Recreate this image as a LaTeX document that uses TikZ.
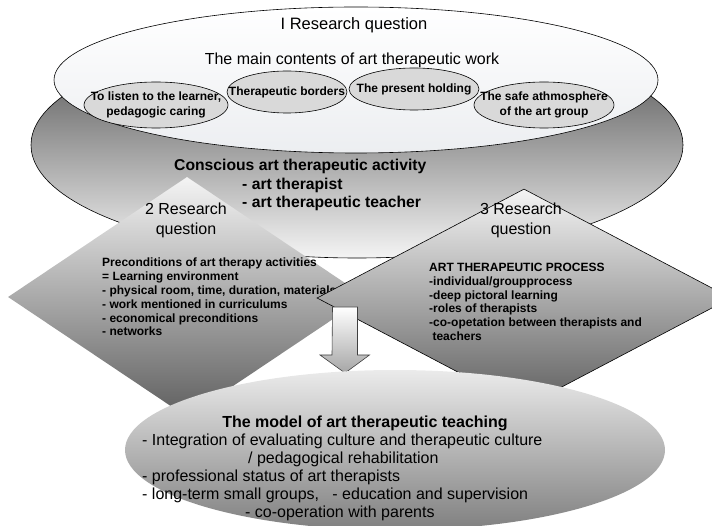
\documentclass[tikz,border=0pt]{standalone}
\usepackage{fontspec}
\setmainfont{Liberation Sans}
\usetikzlibrary{shapes.geometric}
\usetikzlibrary{positioning}
\definecolor{shellwhite}{RGB}{236,238,241}
\definecolor{ovalgrey}{RGB}{217,217,217}
\definecolor{deepgrey}{RGB}{95,95,95}
\definecolor{midgrey}{RGB}{185,185,185}
\definecolor{palegrey}{RGB}{244,244,244}
\tikzstyle{bigoval}=[ellipse,draw=black,line width=0.6pt,inner sep=0pt]
\tikzstyle{smalloval}=[ellipse,draw=black,fill=ovalgrey,line width=0.6pt,inner sep=0pt]
\tikzstyle{ovaltext}=[font=\bfseries\fontsize{12}{14.5}\selectfont,align=center,inner sep=0pt]
\tikzstyle{rqdiamond}=[diamond,inner sep=0pt,top color=palegrey,middle color=midgrey,bottom color=deepgrey]
\tikzstyle{rqtitle}=[font=\fontsize{16}{20}\selectfont,align=center,inner sep=0pt]
\tikzstyle{rqlist}=[font=\bfseries\fontsize{12}{13.8}\selectfont,align=left,inner sep=0pt]

\begin{document}
\begin{tikzpicture}[x=1pt,y=-1pt]

  \useasboundingbox (0,0) rectangle (712,526);

  % first research question
  \node[bigoval,minimum width=652pt,minimum height=226pt,top color=black!72,bottom color=palegrey] (activity) at (357,145) {};
  \node[bigoval,minimum width=604pt,minimum height=146pt,top color=white,bottom color=shellwhite] (contents) at (356,80) {};

  \node[rqtitle,font=\fontsize{16.5}{20}\selectfont] (rq1) at (354,25) {I Research question};
  \node[rqtitle] (maintext) at (352,60) {The main contents of art therapeutic work};

  \foreach \x/\y/\w/\h/\name/\label in {156/105/144/46/listen/{To listen to the learner,\\pedagogic caring},
                                      287/92/120/42/borders/{Therapeutic borders},
                                      414/89/130/42/holding/{The present holding},
                                      544/105/140/46/safe/{The safe athmosphere\\of the art group}}
  {
    \node[smalloval,minimum width=\w pt,minimum height=\h pt] (\name) at (\x,\y) {};
    \node[ovaltext] at (\name) {\label};
  }

  % second research question
  \node[rqdiamond,minimum width=358pt,minimum height=240pt] (rq2) at (187,297) {};
  \node[rqtitle] (rq2title) at (186,220) {2 Research\\question};
  \node[rqlist,anchor=north west] (precond) at (102,258) {Preconditions of art therapy activities\\
    = Learning environment\\
    - physical room, time, duration, materials\\
    - work mentioned in curriculums\\
    - economical preconditions\\
    - networks};

  % third research question
  \node[rqdiamond,draw=black,line width=0.6pt,minimum width=414pt,minimum height=218pt] (rq3) at (524,298) {};
  \node[rqtitle] (rq3title) at (521,220) {3 Research\\question};
  \node[rqlist,anchor=north west] (process) at (429,263) {ART THERAPEUTIC PROCESS\\
    -individual/groupprocess\\
    -deep pictoral learning\\
    -roles of therapists\\
    -co-opetation between therapists and\\
    \ teachers};

  \node[font=\bfseries\fontsize{15.7}{18.5}\selectfont,align=left,inner sep=0pt,anchor=north west] (conscious) at (174,159) {Conscious art therapeutic activity\\
    \hspace*{68pt}- art therapist\\
    \hspace*{68pt}- art therapeutic teacher};

  % block arrow
  \coordinate (down) at (345,307);
  \draw[black!75,line width=0.6pt,top color=white,bottom color=black!35]
    (down) ++(-12.5,0) -- ++(25,0) -- ++(0,48) -- ++(12,0) -- (345,373) -- ++(-25,-18) -- ++(12,0) -- cycle;

  % model
  \node[ellipse,inner sep=0pt,minimum width=540pt,minimum height=160pt,top color=black!8,bottom color=black!50] (model) at (395,450) {};
  \node[font=\bfseries\fontsize{16}{19}\selectfont,inner sep=0pt] (modeltitle) at (365,423) {The model of art therapeutic teaching};
  \node[font=\fontsize{16}{18}\selectfont,align=left,inner sep=0pt,anchor=north west] (modellist) at (142,434) {- Integration of evaluating culture and therapeutic culture\\
    \hspace*{106pt}/ pedagogical rehabilitation\\
    - professional status of art therapists\\
    - long-term small groups,\ \ \ - education and supervision\\
    \hspace*{103pt}- co-operation with parents};

\end{tikzpicture}
\end{document}
